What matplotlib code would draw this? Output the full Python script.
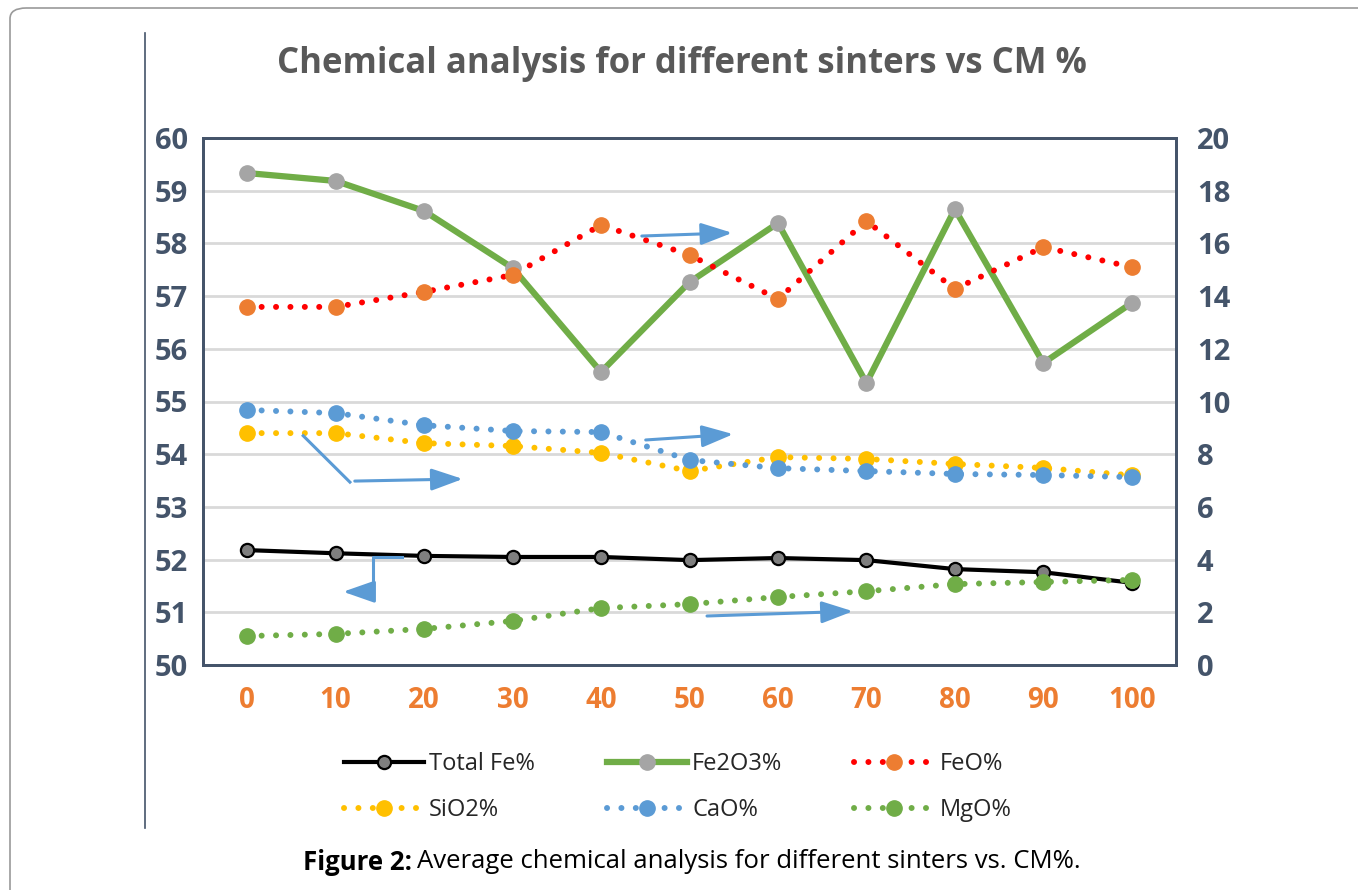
import matplotlib
matplotlib.use('Agg')
import matplotlib.pyplot as plt
from matplotlib.patches import FancyBboxPatch
from matplotlib.lines import Line2D

plt.rcParams['font.family'] = ['Open Sans', 'DejaVu Sans']

# CM % categories
cm = [0, 10, 20, 30, 40, 50, 60, 70, 80, 90, 100]

# left axis
total_fe = [52.18, 52.12, 52.07, 52.05, 52.05, 51.99, 52.03, 51.99, 51.82, 51.76, 51.56]
# right axis
fe2o3 = [18.67, 18.37, 17.23, 15.07, 11.12, 14.53, 16.77, 10.70, 17.30, 11.46, 13.74]
feo = [13.59, 13.59, 14.16, 14.80, 16.70, 15.56, 13.89, 16.85, 14.27, 15.86, 15.10]
sio2 = [8.80, 8.80, 8.42, 8.31, 8.05, 7.36, 7.89, 7.82, 7.63, 7.48, 7.20]
cao = [9.68, 9.56, 9.10, 8.88, 8.84, 7.78, 7.47, 7.36, 7.25, 7.21, 7.13]
mgo = [1.10, 1.18, 1.37, 1.67, 2.16, 2.31, 2.58, 2.80, 3.07, 3.15, 3.23]

axis_col = '#44546A'
arrow_col = '#5B9BD5'
x = list(range(len(cm)))

fig = plt.figure(figsize=(13.58, 8.9), dpi=100)

# page frame bits
fig.patches.append(FancyBboxPatch((10 / 1358, -0.1), 1.2, 1.1 - 8 / 890,
                                  boxstyle='round,pad=0,rounding_size=0.012',
                                  transform=fig.transFigure, fc='none',
                                  ec='#9a9a9a', lw=1.2))
fig.add_artist(Line2D([145 / 1358, 145 / 1358], [1 - 33 / 890, 1 - 828 / 890],
                      transform=fig.transFigure, color=axis_col, lw=1.2))

ax = fig.add_axes([203 / 1358, 225 / 890, 973 / 1358, 527 / 890])
ax2 = ax.twinx()

ax.set_xlim(-0.5, len(cm) - 0.5)
ax.set_ylim(50, 60)
ax2.set_ylim(0, 20)
ax.set_yticks(range(50, 61))
ax2.set_yticks(range(0, 21, 2))
ax.set_xticks(x)
ax.set_xticklabels([str(c) for c in cm])

ax.grid(axis='y', color='#D9D9D9', lw=2)
ax.set_axisbelow(True)
for a in (ax, ax2):
    for s in a.spines.values():
        s.set_color(axis_col)
        s.set_linewidth(2)
    a.tick_params(length=0)

ax.tick_params(axis='y', pad=11, labelsize=21, labelcolor=axis_col)
ax2.tick_params(axis='y', pad=15, labelsize=21, labelcolor=axis_col)
ax.tick_params(axis='x', pad=15, labelsize=20, labelcolor='#ED7D31')
for lab in ax.get_yticklabels() + ax2.get_yticklabels() + ax.get_xticklabels():
    lab.set_fontweight('bold')

dots = (0, (0.01, 2.4))

ax.plot(x, total_fe, color='black', lw=3, marker='o', ms=9.5, mfc='#7F7F7F',
        mec='black', mew=1.6, label='Total Fe%')
ax2.plot(x, fe2o3, color='#70AD47', lw=4.5, marker='o', ms=11, mfc='#A5A5A5',
         mec='#A5A5A5', label='Fe2O3%')
ax2.plot(x, feo, color='#FF0000', lw=4.3, ls=dots, dash_capstyle='round',
         marker='o', ms=11, mfc='#ED7D31', mec='#ED7D31', label='FeO%')
ax2.plot(x, sio2, color='#FFC000', lw=4.3, ls=dots, dash_capstyle='round',
         marker='o', ms=11, mfc='#FFC000', mec='#FFC000', label='SiO2%')
ax2.plot(x, cao, color='#5B9BD5', lw=4.3, ls=dots, dash_capstyle='round',
         marker='o', ms=11, mfc='#5B9BD5', mec='#5B9BD5', label='CaO%')
ax2.plot(x, mgo, color='#70AD47', lw=4.3, ls=dots, dash_capstyle='round',
         marker='o', ms=11, mfc='#70AD47', mec='#70AD47', label='MgO%')

# axis hint arrows
head = dict(arrowstyle='-|>,head_length=0.8,head_width=0.28', color=arrow_col,
            lw=2.2, mutation_scale=24, shrinkA=0, shrinkB=0)
ax2.annotate('', xy=(0.544, 0.820), xytext=(0.451, 0.814),
             xycoords='axes fraction', arrowprops=head)
ax2.annotate('', xy=(0.545, 0.438), xytext=(0.455, 0.427),
             xycoords='axes fraction', arrowprops=head)
ax2.plot([0.103, 0.151], [0.435, 0.347], transform=ax2.transAxes,
         color=arrow_col, lw=2.2)
ax2.annotate('', xy=(0.267, 0.353), xytext=(0.156, 0.349),
             xycoords='axes fraction', arrowprops=head)
ax2.plot([0.205, 0.175, 0.175], [0.205, 0.205, 0.139], transform=ax2.transAxes,
         color=arrow_col, lw=2.2)
ax2.annotate('', xy=(0.144, 0.139), xytext=(0.175, 0.139),
             xycoords='axes fraction', arrowprops=head)
ax2.annotate('', xy=(0.668, 0.102), xytext=(0.518, 0.093),
             xycoords='axes fraction', arrowprops=head)

fig.text(0.502, 1 - 64 / 890, 'Chemical analysis for different sinters vs CM %',
         ha='center', va='center', fontsize=25, fontweight='bold', color='#595959')

h1, l1 = ax.get_legend_handles_labels()
h2, l2 = ax2.get_legend_handles_labels()
handles = h1 + h2
labels = l1 + l2
# fill row-wise like the original (matplotlib fills columns first)
order = [0, 3, 1, 4, 2, 5]
fig.legend([handles[i] for i in order], [labels[i] for i in order],
           loc='center', bbox_to_anchor=(0.499, 1 - 787 / 890), ncol=3,
           frameon=False, fontsize=17, handlelength=3.4, numpoints=1,
           columnspacing=3.05, labelspacing=0.95, handletextpad=0.2,
           labelcolor='#262626')

t1 = fig.text(303 / 1358, 1 - 862 / 890, 'Figure 2:', fontsize=18.5,
              fontweight='bold', va='center', ha='left')
fig.canvas.draw()
bb = t1.get_window_extent()
fig.text((bb.x1 + 5) / 1358, 1 - 862 / 890,
         'Average chemical analysis for different sinters vs. CM%.',
         fontsize=18.5, va='center', ha='left')

fig.savefig('out.png', dpi=100)
